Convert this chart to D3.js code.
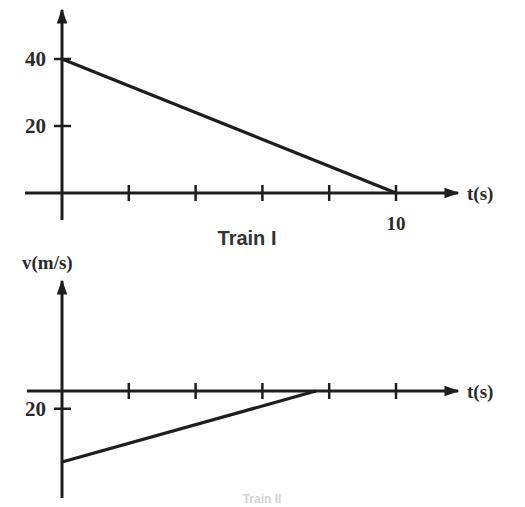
<!DOCTYPE html>
<html><head><meta charset="utf-8">
<script src="https://cdn.jsdelivr.net/npm/d3@7"></script>
<style>body{margin:0;background:#fff}svg{display:block}</style>
</head><body>
<script>
// Data
const trainITime = [0, 10];
const trainIVel = [40, 0];
const trainIITime = [0, 7.6];
const trainIIVel = [-20, 0];
const xTickValues = [2, 4, 6, 8, 10];
const topYTickValues = [20, 40];
const topYTickLabels = ["20", "40"];
const botYTickValues = [-5];
const botYTickLabels = ["20"];

const W = 525, H = 507, ink = "#1e1e1e";
const svg = d3.select("body").append("svg").attr("width", W).attr("height", H);
const defs = svg.append("defs");
defs.append("marker").attr("id","arr").attr("viewBox","0 0 10 10").attr("refX",9).attr("refY",5)
  .attr("markerWidth",6).attr("markerHeight",5).attr("orient","auto").attr("markerUnits","strokeWidth")
  .append("path").attr("d","M0,1.5L10,5L0,8.5Z").attr("fill",ink);

const x = d3.scaleLinear().domain([0,10]).range([62,396]);
const yTop = d3.scaleLinear().domain([0,40]).range([193,59]);
const yBot = d3.scaleLinear().domain([-20,0]).range([462,391]);

function panel(y, yMinPx, yMaxPx, xLeft, yVals, yLabs, times, vels, showTen) {
  const g = svg.append("g");
  const y0 = y(0);
  g.append("line").attr("x1",xLeft).attr("x2",458).attr("y1",y0).attr("y2",y0)
    .attr("stroke",ink).attr("stroke-width",3).attr("marker-end","url(#arr)");
  g.append("line").attr("x1",x(0)).attr("x2",x(0)).attr("y1",yMaxPx).attr("y2",yMinPx)
    .attr("stroke",ink).attr("stroke-width",3).attr("marker-end","url(#arr)");
  g.selectAll(".xt").data(xTickValues).enter().append("line")
    .attr("x1",d=>x(d)).attr("x2",d=>x(d)).attr("y1",y0-8).attr("y2",y0+8)
    .attr("stroke",ink).attr("stroke-width",2.5);
  g.selectAll(".yt").data(yVals).enter().append("line")
    .attr("x1",x(0)-8).attr("x2",x(0)+9).attr("y1",d=>y(d)).attr("y2",d=>y(d))
    .attr("stroke",ink).attr("stroke-width",2.5);
  g.selectAll(".yl").data(yVals).enter().append("text")
    .attr("x",46).attr("y",d=>y(d)).attr("dy","0.35em").attr("text-anchor","end")
    .attr("font-family","Liberation Serif, DejaVu Serif, serif").attr("font-size",21).attr("font-weight","bold")
    .attr("fill","#2a2a2a").text((d,i)=>yLabs[i]);
  g.append("text").attr("x",467).attr("y",y0).attr("dy","0.35em")
    .attr("font-family","Liberation Serif, DejaVu Serif, serif").attr("font-size",19).attr("font-weight","bold")
    .attr("fill","#2a2a2a").text("t(s)");
  if (showTen) {
    g.append("text").attr("x",x(10)).attr("y",y0+30).attr("dy","0.35em").attr("text-anchor","middle")
      .attr("font-family","Liberation Serif, DejaVu Serif, serif").attr("font-size",19).attr("font-weight","bold")
      .attr("fill","#2a2a2a").text("10");
  }
  const line = d3.line().x(d=>x(d[0])).y(d=>y(d[1]));
  g.append("path").datum(times.map((t,i)=>[t,vels[i]])).attr("d",line)
    .attr("fill","none").attr("stroke",ink).attr("stroke-width",3.2);
}

panel(yTop, 10, 220, 25, topYTickValues, topYTickLabels, trainITime, trainIVel, true);
panel(yBot, 281, 498, 27, botYTickValues, botYTickLabels, trainIITime, trainIIVel, false);

svg.append("text").attr("x",247).attr("y",238).attr("dy","0.35em").attr("text-anchor","middle")
  .attr("font-family","Liberation Sans, Arial, sans-serif").attr("font-size",20).attr("font-weight","bold")
  .attr("fill","#333").text("Train I");
svg.append("text").attr("x",22).attr("y",262).attr("dy","0.35em")
  .attr("font-family","Liberation Serif, DejaVu Serif, serif").attr("font-size",19).attr("font-weight","bold")
  .attr("fill","#2a2a2a").text("v(m/s)");
svg.append("text").attr("x",262).attr("y",503).attr("text-anchor","middle")
  .attr("font-family","Liberation Sans, Arial, sans-serif").attr("font-size",12).attr("font-weight","bold")
  .attr("fill","#d4d4d4").text("Train II");
</script>
</body></html>
